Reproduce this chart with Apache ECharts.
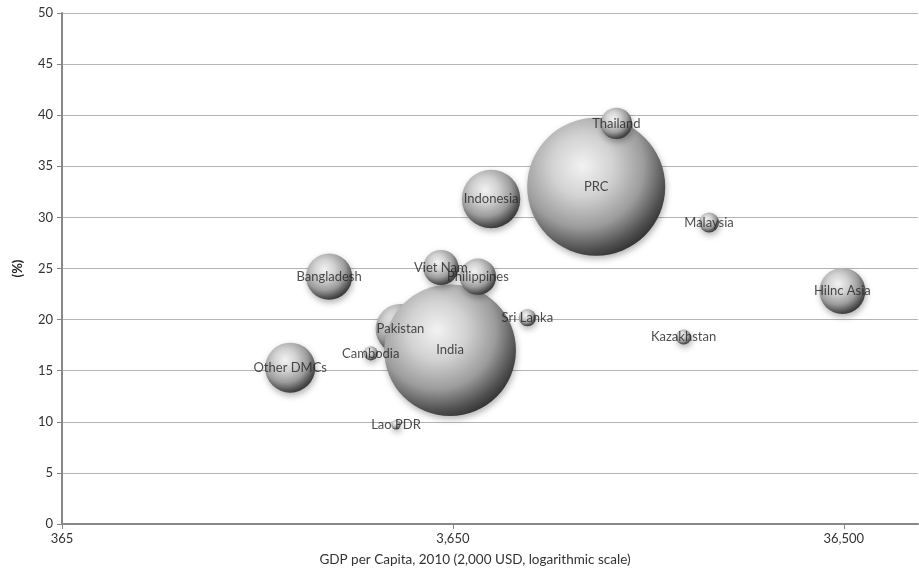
<!DOCTYPE html>
<html>
<head>
    <meta charset="utf-8">
    <title>GDP per capita bubble chart</title>
    <script src="https://cdn.jsdelivr.net/npm/echarts@6/dist/echarts.min.js"></script>
    <style>
        html, body { margin: 0; padding: 0; background: #fff; }
        #main { width: 919px; height: 577px; }
    </style>
</head>
<body>
    <div id="main"></div>
    <script type="text/javascript">
    // data
    var names = ['Pakistan', 'PRC', 'India', 'Indonesia', 'Thailand', 'Malaysia', 'Bangladesh',
                 'Viet Nam', 'Philippines', 'Sri Lanka', 'Kazakhstan', 'Hilnc Asia', 'Cambodia',
                 'Other DMCs', 'Lao PDR'];
    var gdp = [2680, 8490, 3590, 4570, 9560, 16500, 1760, 3400, 4230, 5660, 14200, 36200, 2250, 1400, 2610];
    var pct = [19.1, 33.0, 17.0, 31.8, 39.2, 29.5, 24.2, 25.1, 24.2, 20.2, 18.3, 22.8, 16.7, 15.3, 9.7];
    var population = [174, 1340, 1220, 240, 69, 28, 150, 87, 93, 21, 16, 149, 14, 176, 6]; // millions, bubble size
    var xTicks = [365, 3650, 36500];

    var data = [];
    for (var i = 0; i < names.length; i++) {
        data.push({ name: names[i], value: [gdp[i], pct[i], population[i]] });
    }

    // sphere look
    var ball = new echarts.graphic.RadialGradient(0.4, 0.35, 0.74, [
        { offset: 0, color: '#f2f2f2' },
        { offset: 0.3, color: '#d2d2d2' },
        { offset: 0.6, color: '#9c9c9c' },
        { offset: 0.82, color: '#505050' },
        { offset: 1, color: '#1c1c1c' }
    ]);

    var myChart = echarts.init(document.getElementById('main'));

    var option = {
        backgroundColor: '#fff',
        animation: false,
        textStyle: { fontFamily: 'Lato, "Open Sans", sans-serif' },
        grid: { left: 62, right: 1, top: 13, bottom: 53 },
        xAxis: {
            type: 'log',
            logBase: 10,
            min: 365,
            max: 56500,
            name: 'GDP per Capita, 2010 (2,000 USD, logarithmic scale)',
            nameLocation: 'middle',
            nameGap: 29,
            nameTextStyle: { fontSize: 13.5, color: '#333', padding: [0, 30, 0, 0] },
            axisLine: { lineStyle: { color: '#888', width: 2 } },
            axisTick: { show: true, length: 5, customValues: xTicks, lineStyle: { color: '#888' } },
            axisLabel: {
                customValues: xTicks,
                color: '#333',
                fontSize: 13,
                margin: 8,
                formatter: function (v) { return Math.round(v).toLocaleString('en-US'); }
            },
            splitLine: { show: false }
        },
        yAxis: {
            type: 'value',
            min: 0,
            max: 50,
            interval: 5,
            name: '(%)',
            nameLocation: 'middle',
            nameGap: 38,
            nameRotate: 90,
            nameTextStyle: { fontSize: 13, color: '#222', fontWeight: 'bold' },
            axisLine: { show: true, lineStyle: { color: '#888', width: 2 } },
            axisTick: { show: true, length: 5, lineStyle: { color: '#888' } },
            axisLabel: { color: '#333', fontSize: 13, margin: 9 },
            splitLine: { lineStyle: { color: '#b4b4b4', width: 1 } }
        },
        series: [{
            type: 'scatter',
            data: data,
            symbolSize: function (val) { return 3.77 * Math.sqrt(val[2]); },
            itemStyle: {
                color: ball,
                opacity: 1,
                shadowBlur: 6,
                shadowOffsetX: 1,
                shadowOffsetY: 3,
                shadowColor: 'rgba(0,0,0,0.3)'
            },
            label: { show: false },
            z: 2
        }, {
            type: 'scatter',
            data: data,
            symbolSize: 0,
            silent: true,
            label: {
                show: true,
                position: 'inside',
                formatter: '{b}',
                color: '#222',
                fontSize: 13
            },
            z: 5
        }]
    };

    myChart.setOption(option);
    </script>
</body>
</html>
